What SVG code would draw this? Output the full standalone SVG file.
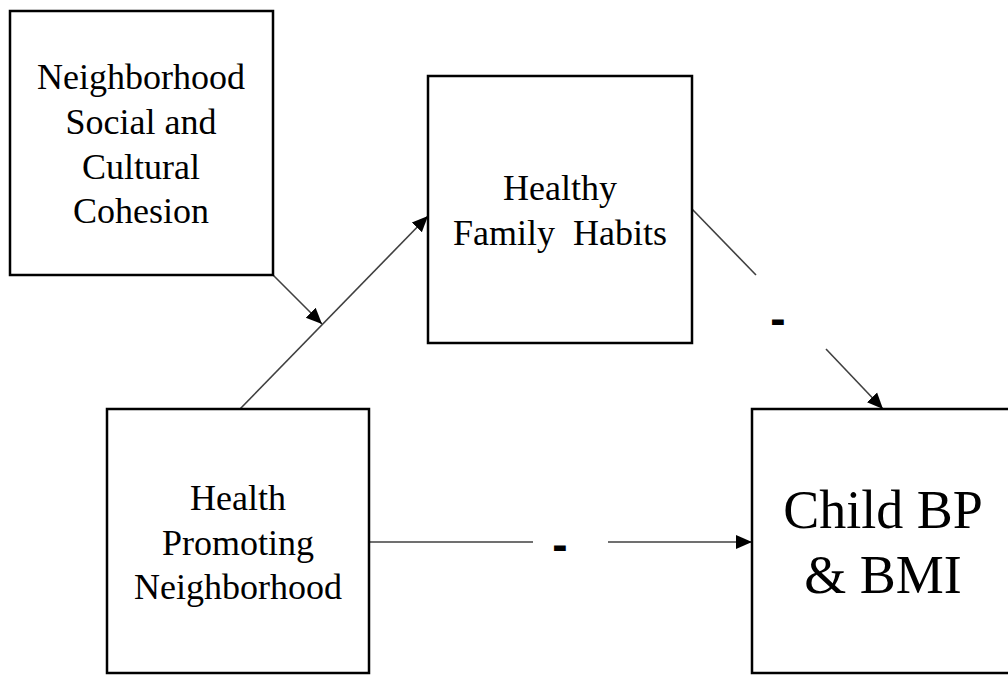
<svg xmlns="http://www.w3.org/2000/svg" width="1008" height="675" viewBox="0 0 1008 675">
  <style>
    .box { fill: #ffffff; stroke: #000000; stroke-width: 2.5; }
    .lbl { font-family: "Liberation Serif", "Times New Roman", serif; font-size: 36px; fill: #000000; text-anchor: middle; }
    .big { font-size: 54px; }
    .edge { fill: none; stroke: #404040; stroke-width: 1.6; }
    .sign { font-family: "Liberation Sans", Arial, sans-serif; font-weight: bold; font-size: 46px; fill: #000000; text-anchor: middle; }
  </style>
  <defs>
    <marker id="arrow" markerUnits="userSpaceOnUse" markerWidth="16" markerHeight="16" viewBox="0 0 16 16" refX="16" refY="8" orient="auto">
      <path d="M0,1 L16,8 L0,15 Z" fill="#000000"/>
    </marker>
  </defs>

  <rect width="1008" height="675" fill="#ffffff"/>

  <g id="connectors">
    <!-- Health Promoting Neighborhood -> Healthy Family Habits -->
    <line class="edge" x1="240" y1="409" x2="428" y2="216" marker-end="url(#arrow)"/>
    <!-- Social and Cultural Cohesion moderates the path above -->
    <line class="edge" x1="273" y1="275" x2="322" y2="324" marker-end="url(#arrow)"/>
    <!-- Healthy Family Habits -> Child BP & BMI (negative) -->
    <line class="edge" x1="692" y1="209" x2="756" y2="275"/>
    <line class="edge" x1="826" y1="349" x2="883" y2="409" marker-end="url(#arrow)"/>
    <text class="sign" x="778" y="334">-</text>
    <!-- Health Promoting Neighborhood -> Child BP & BMI (negative) -->
    <line class="edge" x1="369" y1="542" x2="533" y2="542"/>
    <line class="edge" x1="608" y1="542" x2="752" y2="542" marker-end="url(#arrow)"/>
    <text class="sign" x="560" y="560">-</text>
  </g>

  <g id="node-cohesion">
    <rect class="box" x="10" y="11" width="263" height="264"/>
    <text class="lbl" x="141" y="89">Neighborhood</text>
    <text class="lbl" x="141" y="134">Social and</text>
    <text class="lbl" x="141" y="179">Cultural</text>
    <text class="lbl" x="141" y="223">Cohesion</text>
  </g>

  <g id="node-habits">
    <rect class="box" x="428" y="76" width="264" height="267"/>
    <text class="lbl" x="560" y="200">Healthy</text>
    <text class="lbl" x="560" y="245" xml:space="preserve">Family  Habits</text>
  </g>

  <g id="node-neighborhood">
    <rect class="box" x="107" y="409" width="262" height="264"/>
    <text class="lbl" x="238" y="510">Health</text>
    <text class="lbl" x="238" y="555">Promoting</text>
    <text class="lbl" x="238" y="599">Neighborhood</text>
  </g>

  <g id="node-outcome">
    <rect class="box" x="752" y="409" width="270" height="264"/>
    <text class="lbl big" x="883" y="528">Child BP</text>
    <text class="lbl big" x="883" y="593">&amp; BMI</text>
  </g>
</svg>
